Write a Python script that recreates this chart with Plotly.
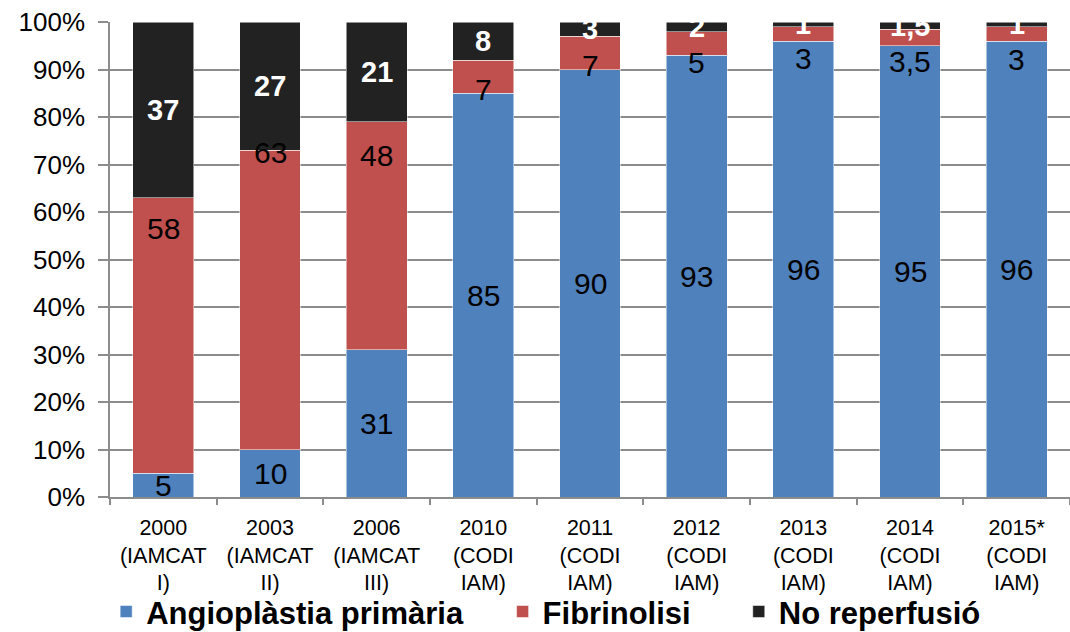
import plotly.graph_objects as go

categories = ["2000<br>(IAMCAT<br>I)", "2003<br>(IAMCAT<br>II)", "2006<br>(IAMCAT<br>III)",
              "2010<br>(CODI<br>IAM)", "2011<br>(CODI<br>IAM)", "2012<br>(CODI<br>IAM)",
              "2013<br>(CODI<br>IAM)", "2014<br>(CODI<br>IAM)", "2015*<br>(CODI<br>IAM)"]
angioplastia = [5, 10, 31, 85, 90, 93, 96, 95, 96]
fibrinolisi = [58, 63, 48, 7, 7, 5, 3, 3.5, 3]
no_reperfusio = [37, 27, 21, 8, 3, 2, 1, 1.5, 1]
# label anchor (in %) for the Fibrinolisi labels, as placed in the original
fibrinolisi_label_at = [56.6, 72.5, 72, 85.7, 90.8, 91.4, 92.4, 91.6, 92.2]
series_names = ["Angioplàstia primària", "Fibrinolisi", "No reperfusió"]

def fmt(v):
    return (f"{v:g}").replace(".", ",")

FONT = "Arial, Liberation Sans, sans-serif"
colors = ["#4F81BD", "#C0504D", "#222222"]
legend_pad = ["\u00a0" * 4, "\u00a0" * 5, ""]

fig = go.Figure()
for name, vals, col, pad in zip(series_names, [angioplastia, fibrinolisi, no_reperfusio],
                                colors, legend_pad):
    fig.add_trace(go.Bar(x=categories, y=vals, name=name + pad, marker_color=col,
                         marker_line_color="white", marker_line_width=0.5))

ann = []
for i, c in enumerate(categories):
    a, f, n = angioplastia[i], fibrinolisi[i], no_reperfusio[i]
    ann.append(dict(x=c, y=a / 2, text=fmt(a), showarrow=False,
                    font=dict(family=FONT, size=30, color="black")))
    ann.append(dict(x=c, y=fibrinolisi_label_at[i], text=fmt(f), showarrow=False,
                    font=dict(family=FONT, size=30, color="black")))
    ann.append(dict(x=c, y=a + f + n / 2, text="<b>" + fmt(n) + "</b>", showarrow=False,
                    font=dict(family=FONT, size=29, color="white")))

fig.update_layout(
    barmode="stack",
    bargap=0.43,
    width=1070, height=632,
    margin=dict(l=110, r=0, t=22, b=135, autoexpand=False),
    plot_bgcolor="white", paper_bgcolor="white",
    font=dict(family=FONT, color="black"),
    annotations=ann,
    legend=dict(orientation="h", x=-0.004, xanchor="left", y=-0.185, yanchor="top",
                bgcolor="rgba(0,0,0,0)",
                font=dict(family=FONT, size=31, color="black", weight="bold"),
                traceorder="normal", itemwidth=30),
    xaxis=dict(tickfont=dict(size=21.5, family=FONT, color="black"),
               showline=True, linecolor="#8c8c8c", linewidth=1.5,
               ticks="outside", tickson="boundaries", ticklen=6, tickcolor="#8c8c8c",
               tickwidth=1.5, automargin=False, ticklabelstandoff=10),
    yaxis=dict(range=[0, 100], dtick=10, ticksuffix="%",
               tickfont=dict(size=26, family=FONT, color="black"),
               showgrid=True, gridcolor="#8c8c8c", gridwidth=1.5,
               showline=True, linecolor="#8c8c8c", linewidth=1.5,
               ticks="outside", ticklen=10, tickcolor="#8c8c8c", tickwidth=1.5,
               zeroline=False, automargin=False, ticklabelstandoff=8),
)
fig.write_html("out.html", config={"displayModeBar": False},
               post_script="document.body.style.margin='0';document.body.style.overflow='hidden';")
